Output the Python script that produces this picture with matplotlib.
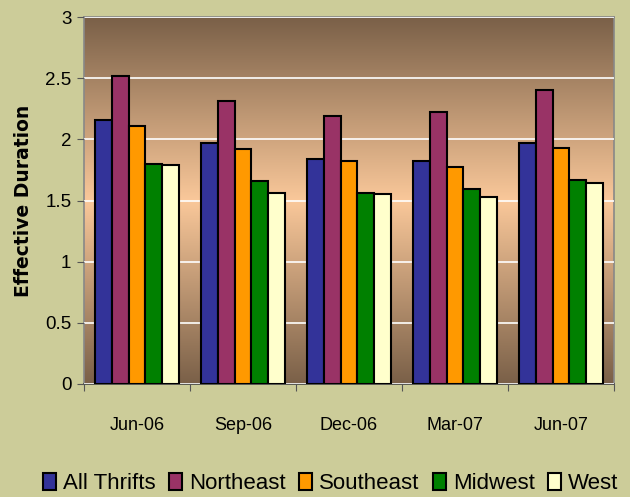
import numpy as np
import matplotlib.pyplot as plt
from matplotlib.colors import LinearSegmentedColormap

# Effective duration by region
quarters = ['Jun-06', 'Sep-06', 'Dec-06', 'Mar-07', 'Jun-07']
all_thrifts = [2.16, 1.97, 1.84, 1.82, 1.97]
northeast = [2.52, 2.31, 2.19, 2.22, 2.40]
southeast = [2.11, 1.92, 1.82, 1.77, 1.93]
midwest = [1.80, 1.66, 1.56, 1.59, 1.67]
west = [1.79, 1.56, 1.55, 1.53, 1.64]

series = [('All Thrifts', all_thrifts, '#333399'),
          ('Northeast', northeast, '#993366'),
          ('Southeast', southeast, '#FF9900'),
          ('Midwest', midwest, '#008000'),
          ('West', west, '#FFFFCC')]

plt.rcParams['font.family'] = ['Liberation Sans', 'DejaVu Sans']
bg = '#CCCC99'

fig = plt.figure(figsize=(6.3, 4.97), dpi=100, facecolor=bg)
ax = fig.add_axes([84 / 630, 113 / 497, 530 / 630, 367 / 497])

# brown -> peach -> brown gradient in the plot area
grad = LinearSegmentedColormap.from_list('bg', ['#7A6048', '#FAC89A', '#7A6048'])
ax.imshow(np.linspace(0, 1, 256).reshape(-1, 1), cmap=grad, aspect='auto',
          extent=[-0.5, 4.5, 0, 3], origin='upper', zorder=0)

x = np.arange(len(quarters))
w = 0.157
for i, (name, vals, col) in enumerate(series):
    ax.bar(x + (i - 2) * w, vals, w, color=col, edgecolor='black',
           linewidth=1.5, label=name, zorder=3)

ax.set_xlim(-0.5, 4.5)
ax.set_ylim(0, 3)
ax.set_yticks(np.arange(0, 3.01, 0.5))
ax.set_yticklabels(['0', '0.5', '1', '1.5', '2', '2.5', '3'], fontsize=13.5)
ax.yaxis.grid(True, color='white', linewidth=1.2, zorder=1)
ax.set_axisbelow(False)

# ticks at group boundaries, labels at centres
ax.set_xticks(np.arange(-0.5, 5, 1))
ax.set_xticklabels([])
ax.set_xticks(x, minor=True)
ax.set_xticklabels(quarters, minor=True, fontsize=13)
ax.tick_params(axis='x', which='minor', length=0, pad=24)
ax.tick_params(axis='x', which='major', length=5, direction='out', color='#555555')
ax.tick_params(axis='y', length=5, direction='out', color='#555555', pad=4)

for s in ax.spines.values():
    s.set_color('#888888')
    s.set_linewidth(1.2)
ax.spines['bottom'].set_color('#444444')

ax.set_ylabel('Effective Duration', fontsize=13.5, fontweight='bold',
              family='DejaVu Sans', labelpad=9)

fig.legend(loc='lower center', bbox_to_anchor=(0.525, -0.035), ncol=5,
           frameon=False, fontsize=16, handlelength=0.6, handleheight=0.8,
           handletextpad=0.3, columnspacing=0.6)

fig.savefig('out.png', dpi=100, facecolor=bg)
